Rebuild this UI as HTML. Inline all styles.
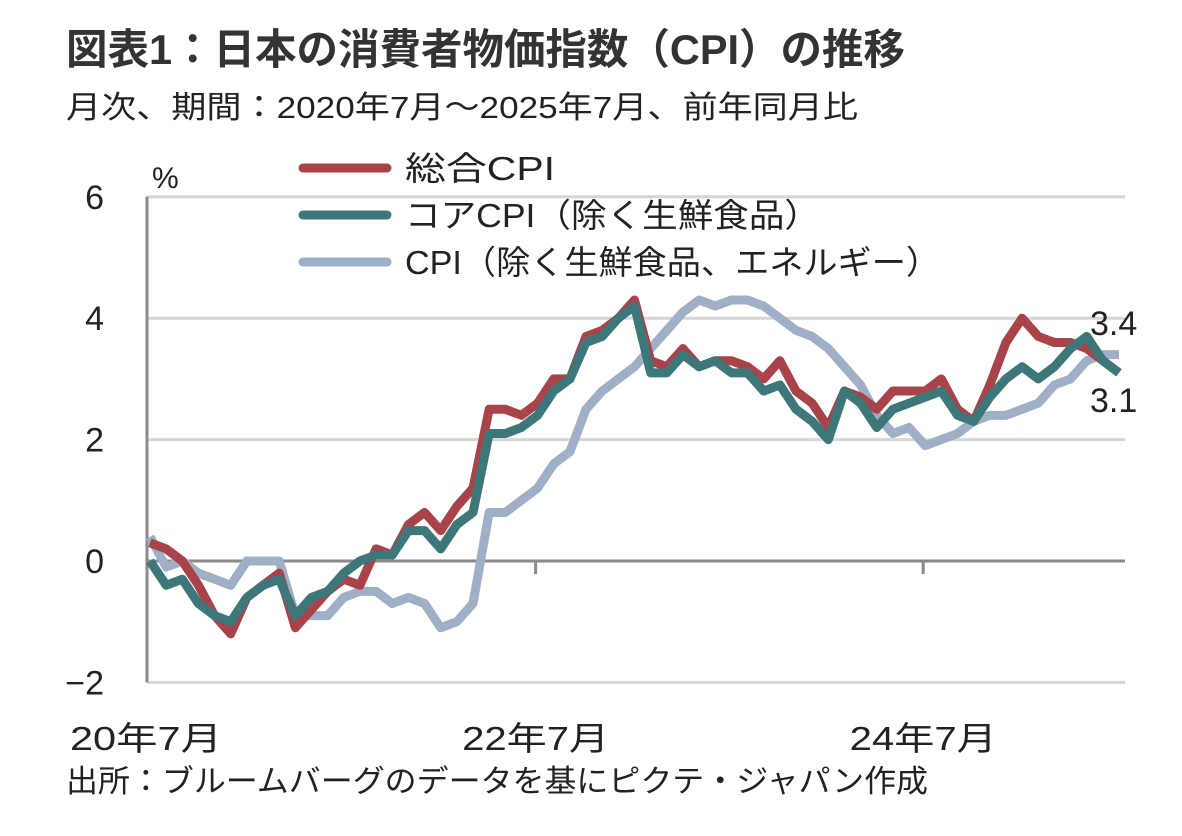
<!DOCTYPE html>
<html><head><meta charset="utf-8"><style>
body{margin:0;background:#fff;font-family:"Liberation Sans","Noto Sans CJK JP",sans-serif;}
</style></head><body>
<svg width="1182" height="831" xmlns="http://www.w3.org/2000/svg" style="font-family:'Liberation Sans','Noto Sans CJK JP',sans-serif">
<text x="66" y="64" font-size="42" font-weight="bold" fill="#333" textLength="839" lengthAdjust="spacingAndGlyphs">図表1：日本の消費者物価指数（CPI）の推移</text>
<text x="66" y="118" font-size="31" fill="#222" textLength="792" lengthAdjust="spacingAndGlyphs">月次、期間：2020年7月～2025年7月、前年同月比</text>
<text x="152" y="188" font-size="30" fill="#222">%</text>
<g id="grid"></g>
<g id="series"></g>
<g id="legend"></g>
<text x="1090" y="335" font-size="34" fill="#222">3.4</text>
<text x="1090" y="412" font-size="34" fill="#222">3.1</text>
<text x="66" y="792" font-size="31" fill="#222" textLength="862" lengthAdjust="spacingAndGlyphs">出所：ブルームバーグのデータを基にピクテ・ジャパン作成</text>
</svg>
<script>
const yTicks=[6,4,2,0,-2];
const xTickIdx=[0,24,48];
const xTickLabels=["20年7月","22年7月","24年7月"];
const seriesNames=["総合CPI","コアCPI（除く生鮮食品）","CPI（除く生鮮食品、エネルギー）"];
const headline=[0.3,0.2,0.0,-0.4,-0.9,-1.2,-0.6,-0.4,-0.2,-1.1,-0.8,-0.5,-0.3,-0.4,0.2,0.1,0.6,0.8,0.5,0.9,1.2,2.5,2.5,2.4,2.6,3.0,3.0,3.7,3.8,4.0,4.3,3.3,3.2,3.5,3.2,3.3,3.3,3.2,3.0,3.3,2.8,2.6,2.2,2.8,2.7,2.5,2.8,2.8,2.8,3.0,2.5,2.3,2.9,3.6,4.0,3.7,3.6,3.6,3.5,3.3,3.1];
const core=[0.0,-0.4,-0.3,-0.7,-0.9,-1.0,-0.6,-0.4,-0.3,-0.9,-0.6,-0.5,-0.2,0.0,0.1,0.1,0.5,0.5,0.2,0.6,0.8,2.1,2.1,2.2,2.4,2.8,3.0,3.6,3.7,4.0,4.2,3.1,3.1,3.4,3.2,3.3,3.1,3.1,2.8,2.9,2.5,2.3,2.0,2.8,2.6,2.2,2.5,2.6,2.7,2.8,2.4,2.3,2.7,3.0,3.2,3.0,3.2,3.5,3.7,3.3,3.1];
const coreCore=[0.4,-0.1,0.0,-0.2,-0.3,-0.4,0.0,0.0,0.0,-0.9,-0.9,-0.9,-0.6,-0.5,-0.5,-0.7,-0.6,-0.7,-1.1,-1.0,-0.7,0.8,0.8,1.0,1.2,1.6,1.8,2.5,2.8,3.0,3.2,3.5,3.8,4.1,4.3,4.2,4.3,4.3,4.2,4.0,3.8,3.7,3.5,3.2,2.9,2.4,2.1,2.2,1.9,2.0,2.1,2.3,2.4,2.4,2.5,2.6,2.9,3.0,3.3,3.4,3.4];
const colors=["#a8434a","#3d777a","#9fb0c6"];
const NS="http://www.w3.org/2000/svg";
const X0=150,DX=16.15,Y0=561,DY=60.7;
const xs=i=>X0+i*DX, ys=v=>Y0-v*DY;
function mk(tag,attrs,parent){const e=document.createElementNS(NS,tag);for(const k in attrs)e.setAttribute(k,attrs[k]);parent.appendChild(e);return e;}
const grid=document.getElementById('grid');
yTicks.forEach(t=>{
  const l=mk('line',{x1:147,x2:1125,y1:ys(t),y2:ys(t),stroke:t===0?'#8a8a8a':'#d6d6d6','stroke-width':3},grid);
  
  
  const tx=mk('text',{x:104,y:ys(t)+12,'font-size':34,fill:'#222','text-anchor':'end'},grid);
  tx.textContent=t<0?'−'+Math.abs(t):String(t);
  
  
});
const ax=mk('line',{x1:147,x2:147,y1:ys(6),y2:ys(-2),stroke:'#8a8a8a','stroke-width':3},grid);


const xLens=[152,147,147];
xTickIdx.forEach((ix,k)=>{
  if(k>0){const tk=mk('line',{x1:xs(ix)-2,x2:xs(ix)-2,y1:Y0,y2:Y0+13,stroke:'#8a8a8a','stroke-width':3},grid);
  
  }
  const cx=k===0?146:xs(ix)-2;
  const tx=mk('text',{x:cx-xLens[k]/2,y:750,'font-size':33,fill:'#222',textLength:xLens[k],lengthAdjust:'spacingAndGlyphs'},grid);
  tx.textContent=xTickLabels[k];
  
  
});
const sg=document.getElementById('series');
[coreCore,headline,core].forEach((arr)=>{
  const ci=arr===headline?0:arr===core?1:2;
  const p=mk('polyline',{points:arr.map((v,i)=>xs(i)+','+ys(v)).join(' '),fill:'none',stroke:colors[ci],'stroke-width':9,'stroke-linejoin':'round'},sg);
  
  
});
const lg=document.getElementById('legend');
const legLens=[150,415,535];
seriesNames.forEach((n,i)=>{
  const y=168+i*47;
  const l=mk('line',{x1:303,x2:387,y1:y,y2:y,stroke:colors[i],'stroke-width':9,'stroke-linecap':'round'},lg);
  
  
  const t=mk('text',{x:405,y:y+12,'font-size':33,fill:'#222',textLength:legLens[i],lengthAdjust:'spacingAndGlyphs'},lg);
  t.textContent=n;
  
  
});
</script>
</body></html>
